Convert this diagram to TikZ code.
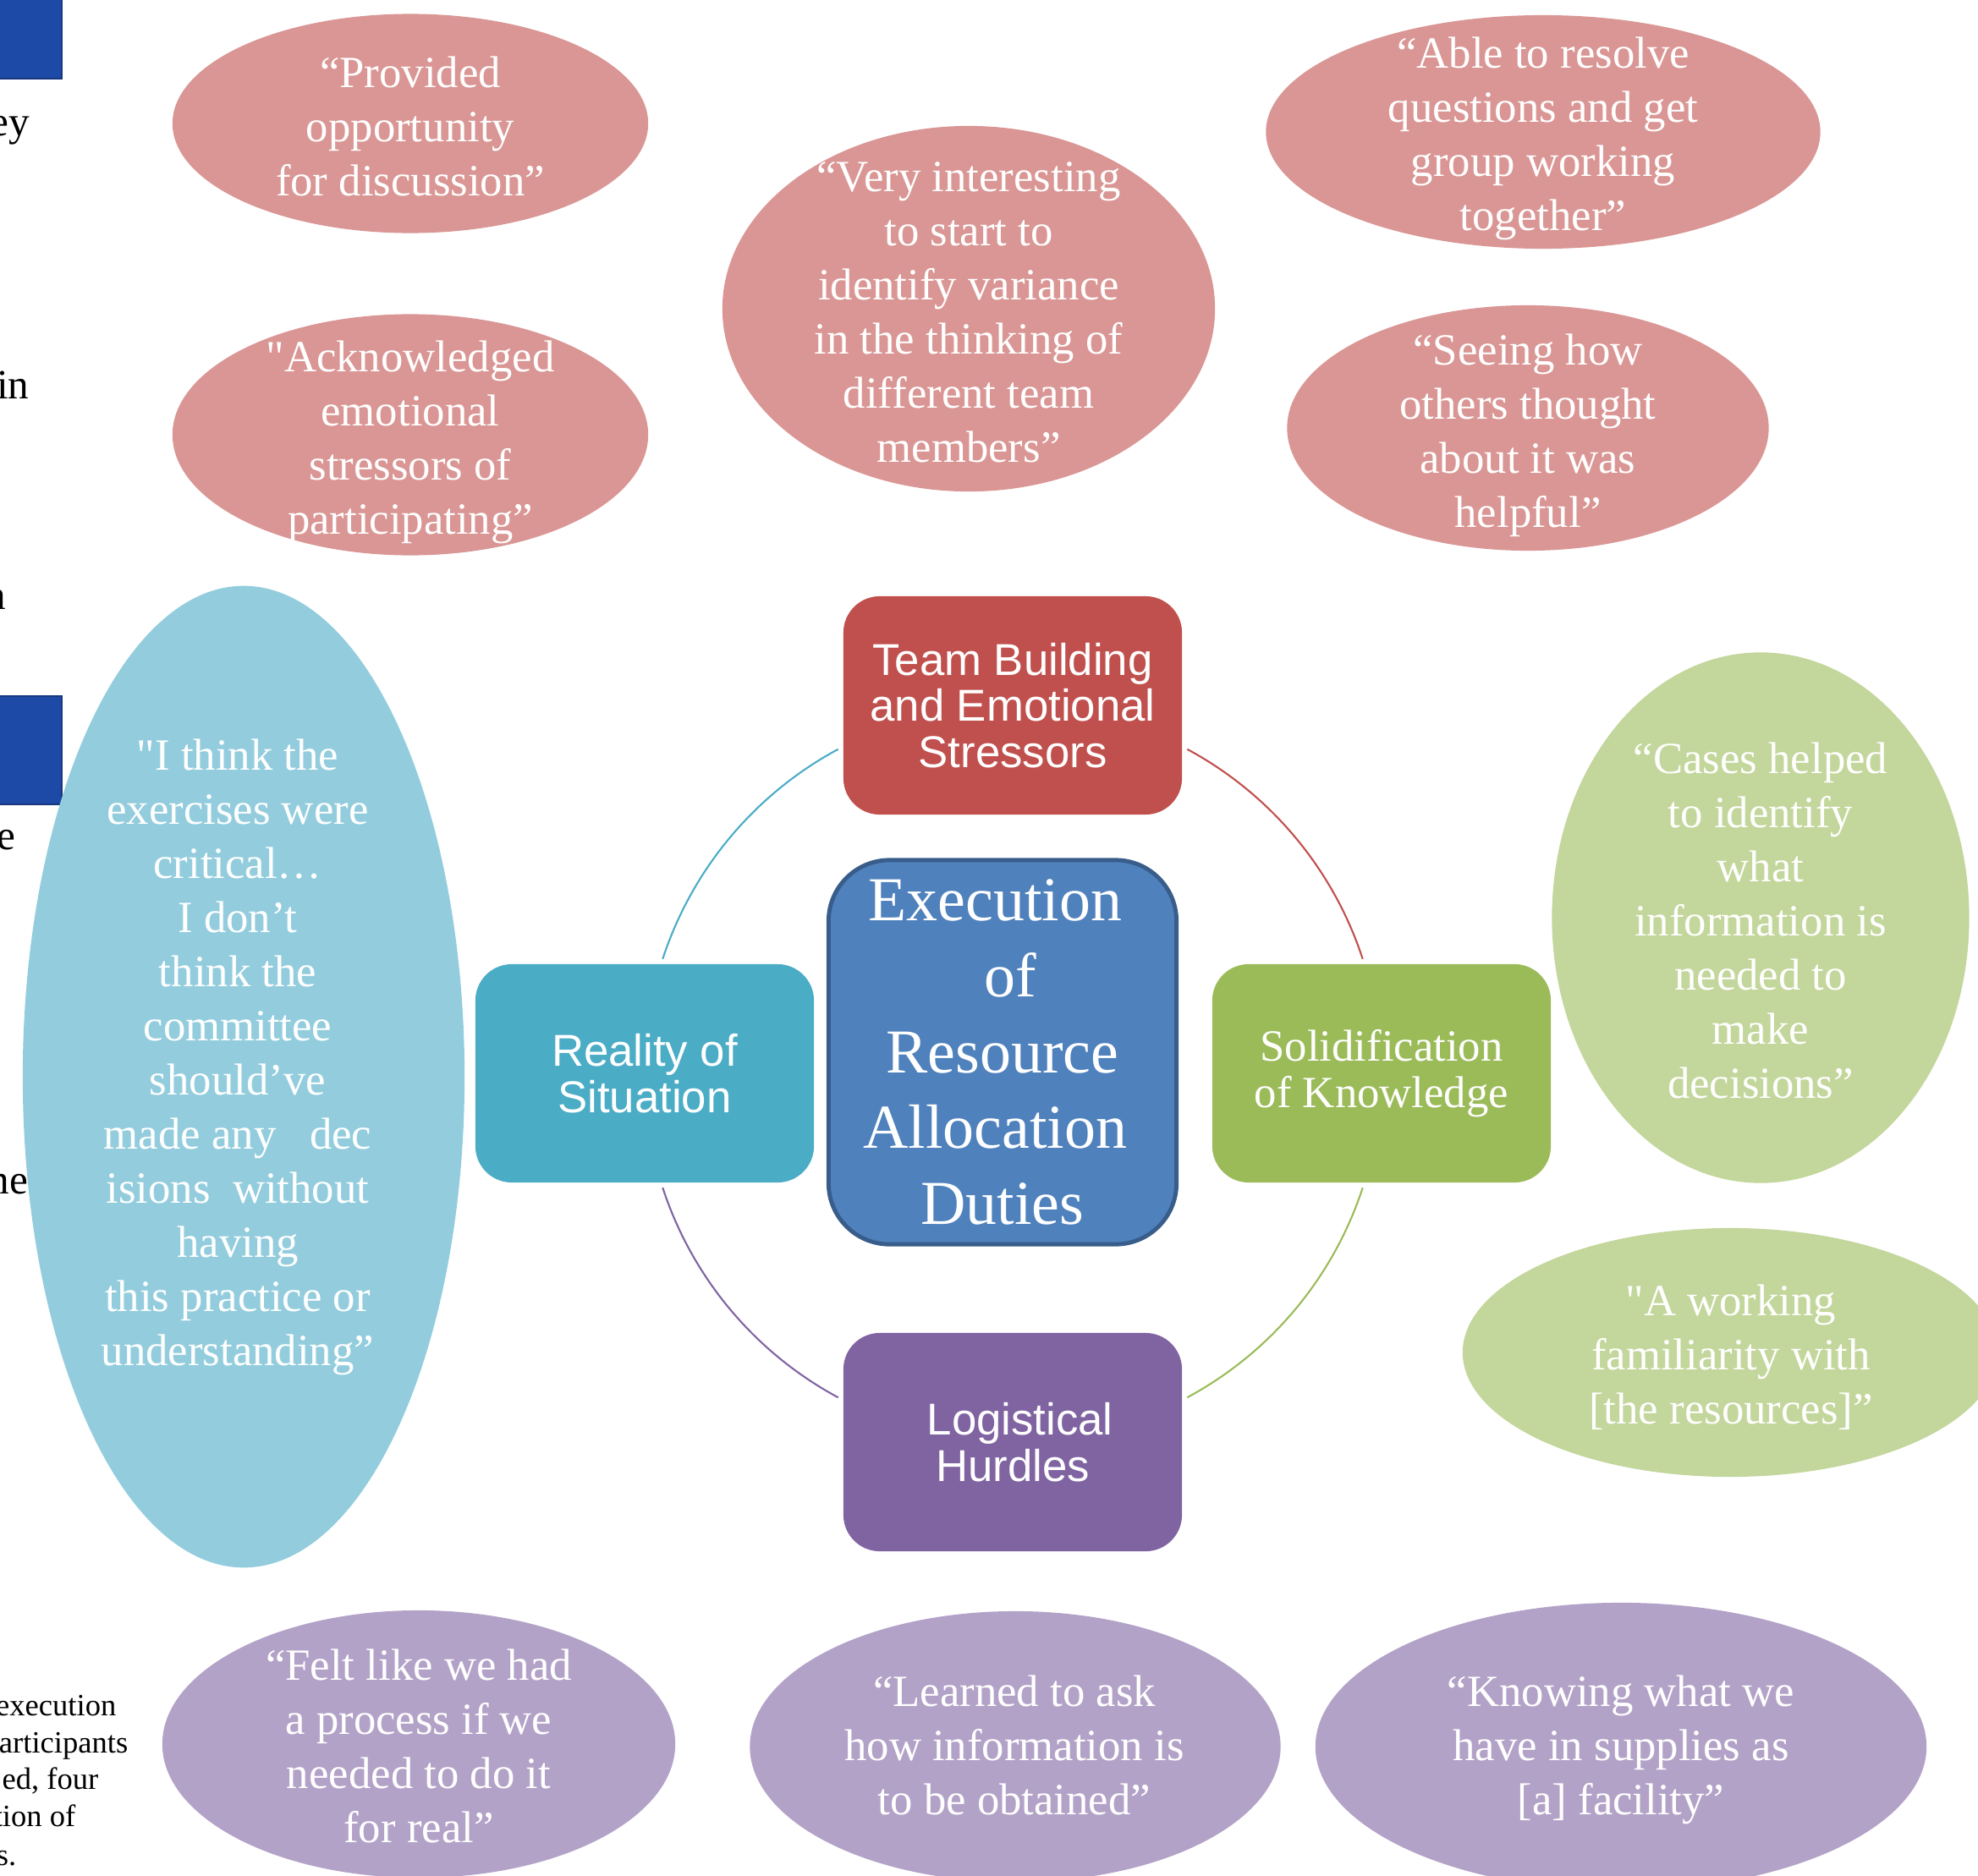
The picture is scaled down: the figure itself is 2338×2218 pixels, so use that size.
\documentclass[tikz,border=0pt]{standalone}
\usepackage{fontspec}
\setmainfont{Liberation Serif}
\newfontfamily\boxsans{Liberation Sans}
\usetikzlibrary{shapes.geometric}
\definecolor{tbred}{HTML}{C0504D}
\definecolor{rsteal}{HTML}{4BACC6}
\definecolor{skgreen}{HTML}{9BBB59}
\definecolor{lhpurple}{HTML}{8064A2}
\definecolor{ctrblue}{HTML}{4F81BD}
\definecolor{ctredge}{HTML}{385D8A}
\definecolor{qpink}{HTML}{D99694}
\definecolor{qblue}{HTML}{93CDDD}
\definecolor{qgreen}{HTML}{C3D69B}
\definecolor{qpurple}{HTML}{B3A2C7}
\definecolor{navy}{HTML}{1C4AA6}
\definecolor{navyedge}{HTML}{17387E}
\begin{document}
\begin{tikzpicture}[x=0.01cm,y=-0.01cm,
  quote/.style={ellipse, inner sep=0pt},
  qtext/.style={inner sep=0pt, text=white, align=center, font=\fontsize{15}{18.2}\selectfont},
  theme/.style={rectangle, rounded corners=0.43cm, minimum width=4cm, minimum height=2.58cm,
    text=white, align=center, inner sep=0pt, font=\boxsans\fontsize{15}{15.6}\selectfont},
  themeserif/.style={theme, font=\fontsize{15}{15.6}\selectfont},
  link/.style={line width=0.6pt},
  frag/.style={inner sep=0pt, text=black, font=\fontsize{14}{17}\selectfont},
  smallfrag/.style={inner sep=0pt, text=black, font=\fontsize{10.4}{12.6}\selectfont},
]
\useasboundingbox (0,0) rectangle (2338,2218);
\clip (0,0) rectangle (2338,2218);

% left fragments of the page
\draw[fill=navy, draw=navyedge, line width=0.5pt] (-20,-20) rectangle (73,93);
\draw[fill=navy, draw=navyedge, line width=0.5pt] (-20,823) rectangle (73,951);
\node[frag, anchor=base east] (f1) at (36,160) {ey};
\node[frag, anchor=base east] (f2) at (35,471) {in};
\node[frag, anchor=base east] (f3) at (8,720) {n};
\node[frag, anchor=base east] (f4) at (19,1004) {e};
\node[frag, anchor=base east] (f5) at (34,1411) {ne};
\node[smallfrag, anchor=base east] (g1) at (138,2028) {execution};
\node[smallfrag, anchor=base east] (g2) at (152,2072) {articipants};
\node[smallfrag, anchor=base east] (g3) at (117,2115) {ed, four};
\node[smallfrag, anchor=base east] (g4) at (90,2159) {tion of};
\node[smallfrag, anchor=base east] (g5) at (20,2205) {s.};

% quote ellipses
\node[quote, fill=qpink, minimum width=5.62cm, minimum height=2.59cm] (q1) at (485,146) {};
\node[qtext] (q1t) at (485,149) {“Provided\\opportunity\\for discussion”};
\node[quote, fill=qpink, minimum width=5.62cm, minimum height=2.85cm] (q2) at (485,514) {};
\node[qtext] (q2t) at (485,523) {\textquotedbl Acknowledged\\emotional\\stressors of\\participating”};
\node[quote, fill=qpink, minimum width=5.82cm, minimum height=4.32cm] (q3) at (1145,365) {};
\node[qtext] (q3t) at (1145,369) {“Very interesting\\to start to\\identify variance\\in the thinking of\\different team\\members”};
\node[quote, fill=qpink, minimum width=6.55cm, minimum height=2.76cm] (q4) at (1824,156) {};
\node[qtext] (q4t) at (1824,164) {“Able to resolve\\questions and get\\group working\\together”};
\node[quote, fill=qpink, minimum width=5.69cm, minimum height=2.90cm] (q5) at (1806,506) {};
\node[qtext] (q5t) at (1806,515) {“Seeing how\\others thought\\about it was\\helpful”};

\node[quote, fill=qblue, minimum width=5.22cm, minimum height=11.60cm] (q6) at (288,1273) {};
\node[qtext] (q6t) at (281,1250) {\textquotedbl I think the\\exercises were\\critical…\\I don’t\\think the\\committee\\should’ve\\made any\ \ \ dec\\isions\ \ without\\having\\this practice or\\understanding”};

\node[quote, fill=qgreen, minimum width=4.93cm, minimum height=6.27cm] (q7) at (2081,1085) {};
\node[qtext] (q7t) at (2081,1088) {“Cases helped\\to identify\\what\\information is\\needed to\\make\\decisions”};
\node[quote, fill=qgreen, minimum width=6.32cm, minimum height=2.94cm] (q8) at (2045,1599) {};
\node[qtext] (q8t) at (2046,1605) {\textquotedbl A working\\familiarity with\\{[}the resources{]}”};

\node[quote, fill=qpurple, minimum width=6.06cm, minimum height=3.16cm] (q9) at (495,2062) {};
\node[qtext] (q9t) at (495,2064) {“Felt like we had\\a process if we\\needed to do it\\for real”};
\node[quote, fill=qpurple, minimum width=6.27cm, minimum height=3.20cm] (q10) at (1200,2065) {};
\node[qtext] (q10t) at (1199,2063) {“Learned to ask\\how information is\\to be obtained”};
\node[quote, fill=qpurple, minimum width=7.22cm, minimum height=3.40cm] (q11) at (1916,2065) {};
\node[qtext] (q11t) at (1916,2069) {“Knowing what we\\have in supplies as\\{[}a{]} facility”};

% cycle connectors
\coordinate (hub) at (1197,1269);
\path (hub) ++(61.7:4.35cm) coordinate (a1);
\path (hub) ++(-18.1:4.35cm) coordinate (a3);
\path (hub) ++(-118.3:4.35cm) coordinate (a5);
\path (hub) ++(161.9:4.35cm) coordinate (a7);
\draw[link, tbred] (a1) arc[start angle=61.7, end angle=18.1, radius=4.35cm];
\draw[link, skgreen] (a3) arc[start angle=-18.1, end angle=-61.7, radius=4.35cm];
\draw[link, lhpurple] (a5) arc[start angle=-118.3, end angle=-161.9, radius=4.35cm];
\draw[link, rsteal] (a7) arc[start angle=161.9, end angle=118.3, radius=4.35cm];

% theme boxes
\node[theme, fill=tbred] (tb) at (1197,834) {\raisebox{4.9pt}{\parbox{4cm}{\centering Team Building\\and Emotional\\Stressors}}};
\node[theme, fill=rsteal] (rs) at (762,1269) {Reality of\\Situation};
\node[themeserif, fill=skgreen] (sk) at (1633,1269) {\raisebox{-2.5pt}{\parbox{4cm}{\centering Solidification\\of Knowledge}}};
\node[theme, fill=lhpurple] (lh) at (1197,1705) {\raisebox{4.9pt}{\parbox{4cm}{\centering\hspace*{5pt}Logistical\\Hurdles}}};

% centre box
\node[rectangle, rounded corners=0.72cm, fill=ctrblue, draw=ctredge, line width=1.4pt,
  minimum width=4.11cm, minimum height=4.54cm, inner sep=0pt, text=white, align=center,
  font=\fontsize{21}{25.5}\selectfont] (ctr) at (1185,1244)
  {\raisebox{-4.2pt}{\parbox{4cm}{\centering Execution\hspace{5pt}\mbox{}\\\hspace*{5.5pt}of\\Resource\\Allocation\hspace{5pt}\mbox{}\\Duties}}};
\end{tikzpicture}
\end{document}
